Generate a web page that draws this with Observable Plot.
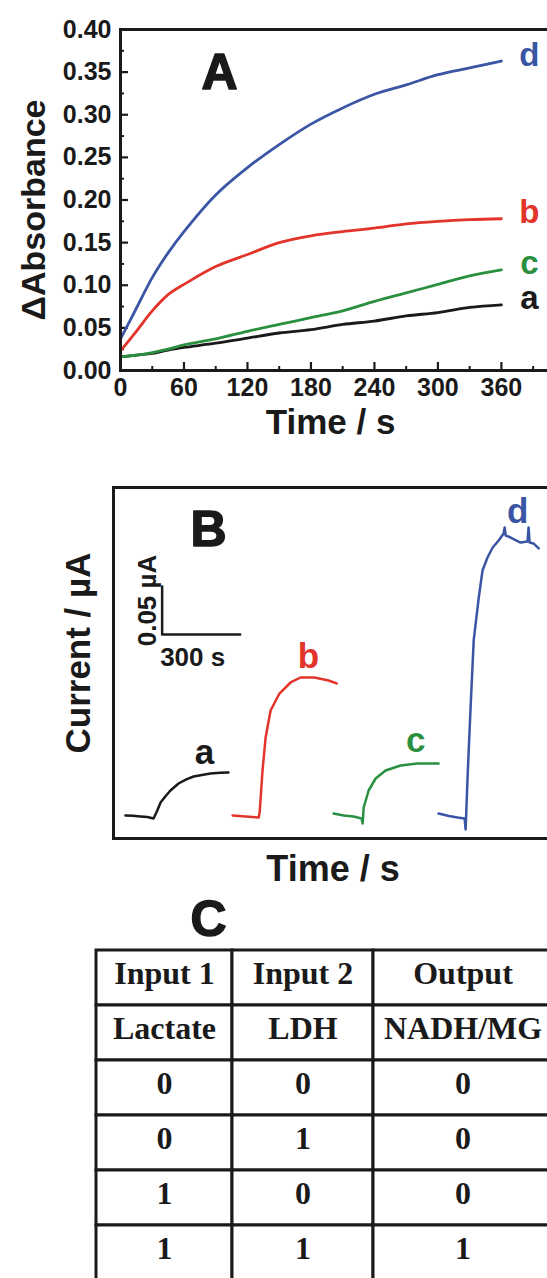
<!DOCTYPE html>
<html><head><meta charset="utf-8">
<script src="https://cdn.jsdelivr.net/npm/d3@7"></script>
<script src="https://cdn.jsdelivr.net/npm/@observablehq/plot@0.6"></script>
<style>
html,body{margin:0;padding:0;width:547px;height:1278px;overflow:hidden;background:#fff;}
#wrap{width:552px;}
#wrap svg{display:block;max-width:none !important;}
</style></head><body><div id="wrap"></div>
<script>
// ---------- Panel A: ΔAbsorbance vs time ----------
const timeA = [0,15,30,45,60,90,120,150,180,210,240,270,300,330,360];
const absA_a = [0.016,0.018,0.020,0.024,0.027,0.032,0.038,0.044,0.048,0.054,0.058,0.064,0.068,0.074,0.077];
const absA_b = [0.023,0.046,0.070,0.089,0.101,0.122,0.136,0.150,0.158,0.163,0.167,0.172,0.175,0.177,0.178];
const absA_c = [0.016,0.018,0.021,0.025,0.030,0.037,0.046,0.054,0.062,0.070,0.081,0.091,0.101,0.111,0.118];
const absA_d = [0.037,0.073,0.109,0.138,0.163,0.206,0.238,0.265,0.289,0.308,0.324,0.335,0.347,0.355,0.363];
const seriesNames = ["a","b","c","d"];
const seriesColors = ["#1a1a1a","#e3342c","#2a9040","#3b55a5"];
const yTicksA = [0,0.05,0.10,0.15,0.20,0.25,0.30,0.35,0.40];
const yMinorA = [0.025,0.075,0.125,0.175,0.225,0.275,0.325,0.375];
const xTicksA = [0,60,120,180,240,300,360];
const xMinorA = [30,90,150,210,270,330,390];

// ---------- Panel B: current traces ----------
const traceA_t = [46,75,104,130,154,168,181,200,219,250,280,308,340,373,410,442];
const traceA_i = [0.0240,0.0236,0.0229,0.0224,0.0208,0.0290,0.0375,0.0440,0.0500,0.0573,0.0615,0.0646,0.0662,0.0677,0.0684,0.0688];
const traceB_t = [458,508,558,562,573,585,604,638,681,719,773,827,858];
const traceB_i = [0.0240,0.0229,0.0219,0.0271,0.0708,0.1052,0.1333,0.1510,0.1625,0.1677,0.1677,0.1646,0.1615];
const traceC_t = [846,885,923,954,958,962,981,1008,1046,1104,1169,1250];
const traceC_i = [0.0260,0.0240,0.0229,0.0208,0.0156,0.0323,0.0500,0.0625,0.0708,0.0760,0.0781,0.0781];
const traceD_t = [1250,1290,1323,1350,1354,1362,1373,1385,1404,1419,1438,1458,1481,1500,1504,1508,1527,1565,1592,1596,1600,1615,1635];
const traceD_i = [0.0260,0.0235,0.0219,0.0208,0.0094,0.0677,0.1365,0.2063,0.2500,0.2792,0.2927,0.3031,0.3104,0.3177,0.3240,0.3156,0.3135,0.3083,0.3094,0.3240,0.3083,0.3073,0.3021];
const labelB_names = ["a","b","c","d"];
const labelB_t = [350,750,1162,1554];
const labelB_i = [0.078,0.178,0.0896,0.329];
const scaleBar = {t: 187, i: 0.2125, dt: 300, di: 0.05};

// ---------- Panel C: truth table ----------
const headers = ["Input 1","Input 2","Output"];
const species = ["Lactate","LDH","NADH/MG"];
const input1 = [0,0,1,1];
const input2 = [0,1,0,1];
const output = [0,0,0,1];

const INK = "#1a1a1a";
const SANS = "'Liberation Sans', Arial, Helvetica, sans-serif";
const SERIF = "'Liberation Serif', 'Times New Roman', serif";

// ====== build A ======
const absSeries = [absA_a, absA_b, absA_c, absA_d];
const dataA = seriesNames.flatMap((s, k) => timeA.map((t, j) => ({series: s, t, v: absSeries[k][j]})));

const plotA = Plot.plot({
  width: 552, height: 460,
  marginLeft: 120, marginRight: 0, marginTop: 29, marginBottom: 90,
  style: {fontFamily: SANS, fontWeight: "bold", color: INK, background: "white", overflow: "visible"},
  x: {domain: [0, 408.3]},
  y: {domain: [0, 0.40]},
  color: {domain: seriesNames, range: seriesColors},
  marks: [
    Plot.axisY({ticks: yTicksA, tickFormat: d => d.toFixed(2), tickSize: 0, tickPadding: 9, fontSize: 25, label: null}),
    Plot.axisY({ticks: yTicksA, tickFormat: () => "", tickSize: -8, strokeWidth: 2.2, label: null}),
    Plot.axisY({ticks: yMinorA, tickFormat: () => "", tickSize: -4, strokeWidth: 2, label: null}),
    Plot.axisX({ticks: xTicksA, tickFormat: d => String(d), tickSize: 0, tickPadding: 8, fontSize: 25, label: null}),
    Plot.axisX({ticks: xTicksA, tickFormat: () => "", tickSize: -8, strokeWidth: 2.2, label: null}),
    Plot.axisX({ticks: xMinorA, tickFormat: () => "", tickSize: -4, strokeWidth: 2, label: null}),
    Plot.line(dataA, {x: "t", y: "v", z: "series", stroke: "series", strokeWidth: 2.8, curve: "catmull-rom"}),
    Plot.text(dataA, Plot.selectLast({x: "t", y: "v", z: "series", text: "series", fill: "series", dx: 28, dy: -6, fontSize: 33, fontWeight: "bold"})),
    Plot.frame({stroke: INK, strokeWidth: 3}),
    Plot.text(["A"], {text: d => d, frameAnchor: "top-left", dx: 99, dy: 59, lineAnchor: "bottom", textAnchor: "middle", fontSize: 50, fontWeight: "bold", fill: INK, stroke: INK, strokeWidth: 1.5}),
    Plot.text(["Time / s"], {text: d => d, frameAnchor: "bottom", dx: -6, dy: 63, lineAnchor: "bottom", textAnchor: "middle", fontSize: 35, fontWeight: "bold", fill: INK}),
    Plot.text(["ΔAbsorbance"], {text: d => d, frameAnchor: "left", dx: -76, dy: 10, rotate: -90, lineAnchor: "bottom", textAnchor: "middle", fontSize: 34, fontWeight: "bold", fill: INK})
  ]
});

// ====== build B ======
const traces = [[traceA_t, traceA_i], [traceB_t, traceB_i], [traceC_t, traceC_i], [traceD_t, traceD_i]];
const dataB = seriesNames.flatMap((s, k) => traces[k][0].map((t, j) => ({series: s, t, i: traces[k][1][j]})));
const labelsB = labelB_names.map((s, k) => ({series: s, t: labelB_t[k], i: labelB_i[k]}));
const barPts = [
  {t: scaleBar.t, i: scaleBar.i + scaleBar.di},
  {t: scaleBar.t, i: scaleBar.i},
  {t: scaleBar.t + scaleBar.dt, i: scaleBar.i}
];

const plotB = Plot.plot({
  width: 552, height: 440,
  marginLeft: 113, marginRight: 0, marginTop: 27, marginBottom: 62,
  style: {fontFamily: SANS, fontWeight: "bold", color: INK, background: "white", overflow: "visible"},
  x: {domain: [0, 1688], axis: null},
  y: {domain: [0, 0.3656], axis: null},
  color: {domain: seriesNames, range: seriesColors},
  marks: [
    Plot.line(dataB, {x: "t", y: "i", z: "series", stroke: "series", strokeWidth: 2.5, strokeLinejoin: "round"}),
    Plot.text(labelsB, {x: "t", y: "i", text: "series", fill: "series", lineAnchor: "bottom", fontSize: 35, fontWeight: "bold"}),
    Plot.line(barPts, {x: "t", y: "i", stroke: INK, strokeWidth: 2.5}),
    Plot.text([scaleBar], {x: "t", y: d => d.i + d.di / 2, text: () => "0.05 µA", rotate: -90, lineAnchor: "bottom", textAnchor: "middle", dx: -6, dy: -10, fontSize: 26, fontWeight: "bold", fill: INK}),
    Plot.text([scaleBar], {x: "t", y: "i", text: () => "300 s", textAnchor: "start", lineAnchor: "top", dx: -2, dy: 13, fontSize: 26, fontWeight: "bold", fill: INK}),
    Plot.frame({stroke: INK, strokeWidth: 3}),
    Plot.text(["B"], {text: d => d, frameAnchor: "top-left", dx: 95, dy: 58, lineAnchor: "bottom", textAnchor: "middle", fontSize: 50, fontWeight: "bold", fill: INK, stroke: INK, strokeWidth: 1.5}),
    Plot.text(["Time / s"], {text: d => d, frameAnchor: "bottom", dx: 0, dy: 42, lineAnchor: "bottom", textAnchor: "middle", fontSize: 36, fontWeight: "bold", fill: INK}),
    Plot.text(["Current / µA"], {text: d => d, frameAnchor: "left", dx: -24, dy: -10, rotate: -90, lineAnchor: "bottom", textAnchor: "middle", fontSize: 35, fontWeight: "bold", fill: INK})
  ]
});

// ====== build C ======
const colEdges = [0, 136, 277, 456];
const rows = [headers, species, ...input1.map((v, k) => [v, input2[k], output[k]])];
const cells = rows.flatMap((row, r) => row.map((label, c) => ({r, c, label: String(label)})));

const plotC = Plot.plot({
  width: 552, height: 378,
  marginLeft: 96, marginRight: 0, marginTop: 50, marginBottom: 0,
  style: {fontFamily: SANS, fontWeight: "bold", color: INK, background: "white", overflow: "visible"},
  x: {domain: [0, 456], range: [96, 552], axis: null},
  y: {domain: [0, 6], range: [50, 380], axis: null},
  marks: [
    Plot.rect(cells, {x1: d => colEdges[d.c], x2: d => colEdges[d.c + 1], y1: "r", y2: d => d.r + 1, fill: "white", stroke: INK, strokeWidth: 3}),
    Plot.text(cells, {x: d => (colEdges[d.c] + colEdges[d.c + 1]) / 2, y: d => d.r + 0.5, text: "label", fontFamily: SERIF, fontWeight: "bold", fontSize: 32, dy: -4, fill: INK}),
    Plot.text(["C"], {text: d => d, frameAnchor: "top-left", dx: 112, dy: -15, lineAnchor: "bottom", textAnchor: "middle", fontSize: 50, fontWeight: "bold", fill: INK, stroke: INK, strokeWidth: 1.5})
  ]
});

const wrap = document.getElementById("wrap");
for (const p of [plotA, plotB, plotC]) {
  p.style.maxWidth = "none";
  p.style.display = "block";
  wrap.appendChild(p);
}
</script></body></html>
